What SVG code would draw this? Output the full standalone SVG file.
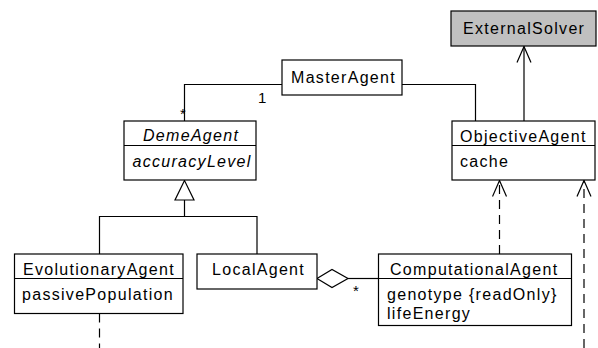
<svg xmlns="http://www.w3.org/2000/svg" width="598" height="348" viewBox="0 0 598 348">
<style>
.box{fill:#fff;stroke:#000;stroke-width:1.2}
.gray{fill:#c0c0c0;stroke:#000;stroke-width:1.2}
.ln{fill:none;stroke:#000;stroke-width:1.2}
.dash{fill:none;stroke:#000;stroke-width:1.2;stroke-dasharray:9,6}
.t{font-family:"Liberation Sans",Arial,sans-serif;font-size:16px;letter-spacing:1.3px;fill:#000}
.i{font-style:italic}
.s{font-family:"Liberation Sans",Arial,sans-serif;font-size:15px;fill:#000}
</style>
<defs>
<marker id="open" markerWidth="18" markerHeight="16" refX="17" refY="8" orient="auto" markerUnits="userSpaceOnUse" viewBox="0 0 18 16">
<path d="M1,1 L17,8 L1,15" fill="none" stroke="#000" stroke-width="1.2"/>
</marker>
</defs>
<g id="connectors">
<path class="ln" d="M282,84.5 H184.5 V121"/>
<path class="ln" d="M402,84.5 H475.5 V121"/>
<path class="ln" d="M524,121 V46.5" marker-end="url(#open)"/>
<path class="ln" d="M184.5,200 V216.5 M99.5,254 V216.5 H257 V254"/>
<path class="ln" d="M184.5,180.5 L175,200 H194 Z" fill="#fff"/>
<path class="ln" d="M317,278.5 L332,269.5 L348,278.5 L332,287.5 Z" fill="#fff"/>
<path class="ln" d="M348,278.5 H378"/>
<path class="dash" d="M499.5,254 V180.5" marker-end="url(#open)"/>
<path class="dash" d="M584,348 V180.5" marker-end="url(#open)"/>
<path class="dash" d="M99.5,313.5 V348"/>
<text class="s" x="258" y="103">1</text>
<text class="s" x="180" y="119">*</text>
<text class="s" x="353" y="296">*</text>
</g>
<g id="ExternalSolver">
<rect class="gray" x="451" y="11" width="145" height="35"/>
<text class="t" x="463" y="33.5">ExternalSolver</text>
</g>
<g id="MasterAgent">
<rect class="box" x="282" y="60" width="120" height="35"/>
<text class="t" x="291" y="82.5">MasterAgent</text>
</g>
<g id="DemeAgent">
<rect class="box" x="124" y="121" width="132" height="59"/>
<line class="ln" x1="124" y1="145.5" x2="256" y2="145.5"/>
<text class="t i" x="143" y="140.5">DemeAgent</text>
<text class="t i" x="132.5" y="166.5">accuracyLevel</text>
</g>
<g id="ObjectiveAgent">
<rect class="box" x="452" y="121" width="143" height="59"/>
<line class="ln" x1="452" y1="145.5" x2="595" y2="145.5"/>
<text class="t" x="460" y="141.5">ObjectiveAgent</text>
<text class="t" x="460" y="166.5">cache</text>
</g>
<g id="EvolutionaryAgent">
<rect class="box" x="14.5" y="254" width="168.5" height="59.5"/>
<line class="ln" x1="14.5" y1="278.5" x2="183" y2="278.5"/>
<text class="t" x="23" y="275">EvolutionaryAgent</text>
<text class="t" x="22" y="299.5">passivePopulation</text>
</g>
<g id="LocalAgent">
<rect class="box" x="197" y="254" width="120" height="35"/>
<text class="t" x="212" y="275">LocalAgent</text>
</g>
<g id="ComputationalAgent">
<rect class="box" x="378.5" y="254" width="193" height="71.5"/>
<line class="ln" x1="378.5" y1="278.5" x2="571.5" y2="278.5"/>
<text class="t" x="390" y="275">ComputationalAgent</text>
<text class="t" x="387" y="299.5">genotype {readOnly}</text>
<text class="t" x="387" y="318.5">lifeEnergy</text>
</g>
</svg>
